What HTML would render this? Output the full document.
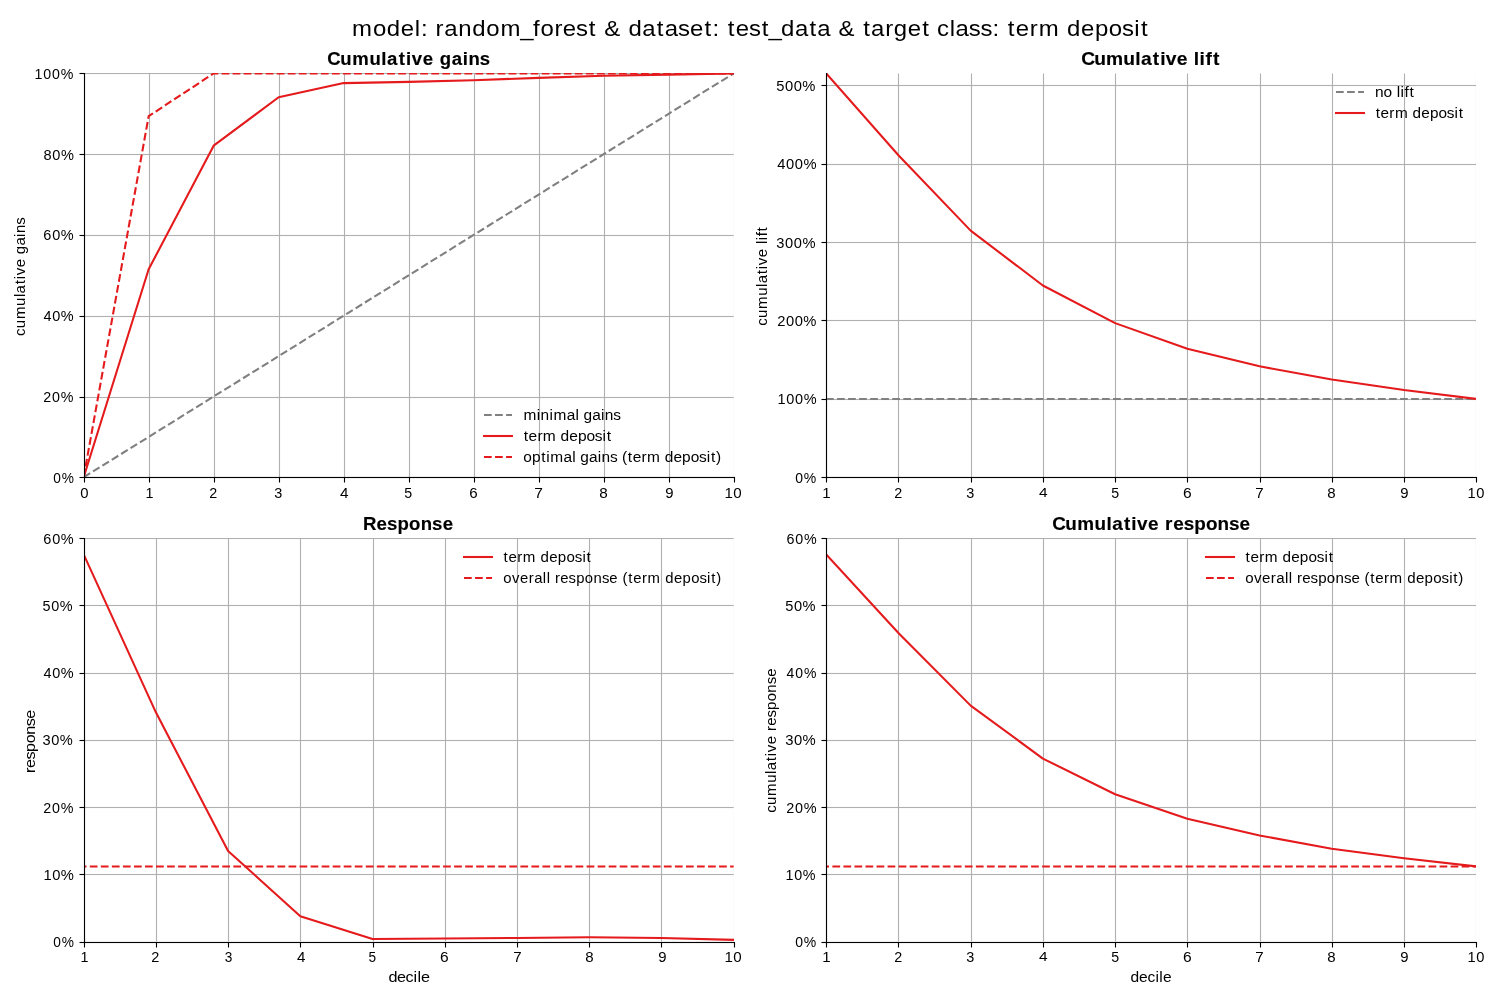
<!DOCTYPE html>
<html lang="en"><head><meta charset="utf-8"><title>model plots: random_forest on test_data</title>
<style>
html,body{margin:0;padding:0;background:#fff;width:1500px;height:1000px;overflow:hidden}
svg{display:block;will-change:transform}
text{font-family:"Liberation Sans",sans-serif;fill:#000;white-space:pre;font-kerning:none;font-variant-ligatures:none}
</style></head><body>
<svg width="1500" height="1000" viewBox="0 0 1500 1000">
<rect width="1500" height="1000" fill="#fff"/>
<defs>
<clipPath id="c0"><rect x="84" y="73" width="650" height="404"/></clipPath>
<clipPath id="c1"><rect x="826" y="73" width="650" height="404"/></clipPath>
<clipPath id="c2"><rect x="84" y="538" width="650" height="404"/></clipPath>
<clipPath id="c3"><rect x="826" y="538" width="650" height="404"/></clipPath>
</defs>
<g clip-path="url(#c0)" stroke="#b0b0b0" stroke-width="1.11" fill="none">
<path d="M84.5 73.4V477.3M149.5 73.4V477.3M214.5 73.4V477.3M279.5 73.4V477.3M344.5 73.4V477.3M409.5 73.4V477.3M474.5 73.4V477.3M539.5 73.4V477.3M604.5 73.4V477.3M669.5 73.4V477.3M734.5 73.4V477.3"/>
<rect x="83.65" y="476.94" width="650" height="1.11" fill="#b0b0b0" stroke="none"/>
<rect x="83.65" y="396.94" width="650" height="1.11" fill="#b0b0b0" stroke="none"/>
<rect x="83.65" y="315.94" width="650" height="1.11" fill="#b0b0b0" stroke="none"/>
<rect x="83.65" y="234.94" width="650" height="1.11" fill="#b0b0b0" stroke="none"/>
<rect x="83.65" y="153.94" width="650" height="1.11" fill="#b0b0b0" stroke="none"/>
<rect x="83.65" y="72.94" width="650" height="1.11" fill="#b0b0b0" stroke="none"/>
</g>
<g clip-path="url(#c1)" stroke="#b0b0b0" stroke-width="1.11" fill="none">
<path d="M826.5 73.4V477.3M898.5 73.4V477.3M971.5 73.4V477.3M1043.5 73.4V477.3M1115.5 73.4V477.3M1187.5 73.4V477.3M1260.5 73.4V477.3M1332.5 73.4V477.3M1404.5 73.4V477.3M1476.5 73.4V477.3"/>
<rect x="826.22" y="476.94" width="650" height="1.11" fill="#b0b0b0" stroke="none"/>
<rect x="826.22" y="398.94" width="650" height="1.11" fill="#b0b0b0" stroke="none"/>
<rect x="826.22" y="319.94" width="650" height="1.11" fill="#b0b0b0" stroke="none"/>
<rect x="826.22" y="241.94" width="650" height="1.11" fill="#b0b0b0" stroke="none"/>
<rect x="826.22" y="163.94" width="650" height="1.11" fill="#b0b0b0" stroke="none"/>
<rect x="826.22" y="84.94" width="650" height="1.11" fill="#b0b0b0" stroke="none"/>
</g>
<g clip-path="url(#c2)" stroke="#b0b0b0" stroke-width="1.11" fill="none">
<path d="M84.5 538.2V941.6M156.5 538.2V941.6M228.5 538.2V941.6M300.5 538.2V941.6M373.5 538.2V941.6M445.5 538.2V941.6M517.5 538.2V941.6M589.5 538.2V941.6M661.5 538.2V941.6M734.5 538.2V941.6"/>
<rect x="83.65" y="941.94" width="650" height="1.11" fill="#b0b0b0" stroke="none"/>
<rect x="83.65" y="873.94" width="650" height="1.11" fill="#b0b0b0" stroke="none"/>
<rect x="83.65" y="806.94" width="650" height="1.11" fill="#b0b0b0" stroke="none"/>
<rect x="83.65" y="739.94" width="650" height="1.11" fill="#b0b0b0" stroke="none"/>
<rect x="83.65" y="672.94" width="650" height="1.11" fill="#b0b0b0" stroke="none"/>
<rect x="83.65" y="604.94" width="650" height="1.11" fill="#b0b0b0" stroke="none"/>
<rect x="83.65" y="537.94" width="650" height="1.11" fill="#b0b0b0" stroke="none"/>
</g>
<g clip-path="url(#c3)" stroke="#b0b0b0" stroke-width="1.11" fill="none">
<path d="M826.5 538.2V941.6M898.5 538.2V941.6M971.5 538.2V941.6M1043.5 538.2V941.6M1115.5 538.2V941.6M1187.5 538.2V941.6M1260.5 538.2V941.6M1332.5 538.2V941.6M1404.5 538.2V941.6M1476.5 538.2V941.6"/>
<rect x="826.22" y="941.94" width="650" height="1.11" fill="#b0b0b0" stroke="none"/>
<rect x="826.22" y="873.94" width="650" height="1.11" fill="#b0b0b0" stroke="none"/>
<rect x="826.22" y="806.94" width="650" height="1.11" fill="#b0b0b0" stroke="none"/>
<rect x="826.22" y="739.94" width="650" height="1.11" fill="#b0b0b0" stroke="none"/>
<rect x="826.22" y="672.94" width="650" height="1.11" fill="#b0b0b0" stroke="none"/>
<rect x="826.22" y="604.94" width="650" height="1.11" fill="#b0b0b0" stroke="none"/>
<rect x="826.22" y="537.94" width="650" height="1.11" fill="#b0b0b0" stroke="none"/>
</g>
<path clip-path="url(#c0)" d="M83.65 477.3 L148.65 436.91 L213.65 396.52 L278.65 356.13 L343.65 315.74 L408.65 275.35 L473.65 234.96 L538.65 194.57 L603.65 154.18 L668.65 113.79 L733.65 73.4" fill="none" stroke="#808080" stroke-width="2.08" stroke-linejoin="round" stroke-dasharray="7.71 3.33" stroke-linecap="butt"/>
<path clip-path="url(#c0)" d="M83.65 477.3 L148.65 269.29 L213.65 145.7 L278.65 97.23 L343.65 83.09 L408.65 81.88 L473.65 80.27 L538.65 77.84 L603.65 75.82 L668.65 74.61 L733.65 73.4" fill="none" stroke="#e41a1c" stroke-width="2.08" stroke-linejoin="round" stroke-linecap="square"/>
<path clip-path="url(#c0)" d="M83.65 477.3 L148.65 116.21 L213.65 73.4 L278.65 73.4 L343.65 73.4 L408.65 73.4 L473.65 73.4 L538.65 73.4 L603.65 73.4 L668.65 73.4 L733.65 73.4" fill="none" stroke="#e41a1c" stroke-width="2.08" stroke-linejoin="round" stroke-dasharray="7.71 3.33" stroke-linecap="butt"/>
<path clip-path="url(#c1)" d="M826 399 L898 399 L971 399 L1043 399 L1115 399 L1187 399 L1260 399 L1332 399 L1404 399 L1476 399" fill="none" stroke="#808080" stroke-width="2.08" stroke-linejoin="round" stroke-dasharray="7.71 3.33" stroke-linecap="butt"/>
<path clip-path="url(#c1)" d="M826.22 73.4 L898.44 155.2 L970.66 230.65 L1042.89 285.47 L1115.11 323.11 L1187.33 348.76 L1259.55 366.33 L1331.78 379.5 L1404 390.01 L1476.22 398.87" fill="none" stroke="#e41a1c" stroke-width="2.08" stroke-linejoin="round" stroke-linecap="square"/>
<path clip-path="url(#c2)" d="M83.65 554.34 L155.87 712.33 L228.09 850.97 L300.32 916.19 L372.54 939.05 L444.76 938.57 L516.98 937.97 L589.21 937.3 L661.43 937.97 L733.65 939.85" fill="none" stroke="#e41a1c" stroke-width="2.08" stroke-linejoin="round" stroke-linecap="square"/>
<path clip-path="url(#c2)" d="M11.43 941.6 L83.65 866.43 L155.87 866.43 L228.09 866.43 L300.32 866.43 L372.54 866.43 L444.76 866.43 L516.98 866.43 L589.21 866.43 L661.43 866.43 L733.65 866.43" fill="none" stroke="#e41a1c" stroke-width="2.08" stroke-linejoin="round" stroke-dasharray="7.71 3.33" stroke-linecap="butt"/>
<path clip-path="url(#c3)" d="M826.22 554.34 L898.44 633 L970.66 705.61 L1042.89 758.59 L1115.11 794.22 L1187.33 818.76 L1259.55 835.51 L1331.78 848.68 L1404 858.3 L1476.22 866.43" fill="none" stroke="#e41a1c" stroke-width="2.08" stroke-linejoin="round" stroke-linecap="square"/>
<path clip-path="url(#c3)" d="M754 941.6 L826.22 866.43 L898.44 866.43 L970.66 866.43 L1042.89 866.43 L1115.11 866.43 L1187.33 866.43 L1259.55 866.43 L1331.78 866.43 L1404 866.43 L1476.22 866.43" fill="none" stroke="#e41a1c" stroke-width="2.08" stroke-linejoin="round" stroke-dasharray="7.71 3.33" stroke-linecap="butt"/>
<rect x="83.94" y="476.94" width="651.11" height="1.11" fill="#000"/>
<rect x="79.5" y="476.94" width="5" height="1.11" fill="#000"/>
<rect x="79.5" y="396.94" width="5" height="1.11" fill="#000"/>
<rect x="79.5" y="315.94" width="5" height="1.11" fill="#000"/>
<rect x="79.5" y="234.94" width="5" height="1.11" fill="#000"/>
<rect x="79.5" y="153.94" width="5" height="1.11" fill="#000"/>
<rect x="79.5" y="72.94" width="5" height="1.11" fill="#000"/>
<path d="M84.5 72.94V478.06M84.5 477.5V482.5M149.5 477.5V482.5M214.5 477.5V482.5M279.5 477.5V482.5M344.5 477.5V482.5M409.5 477.5V482.5M474.5 477.5V482.5M539.5 477.5V482.5M604.5 477.5V482.5M669.5 477.5V482.5M734.5 477.5V482.5" stroke="#000" stroke-width="1.11" fill="none"/>
<rect x="825.94" y="476.94" width="651.11" height="1.11" fill="#000"/>
<rect x="821.5" y="476.94" width="5" height="1.11" fill="#000"/>
<rect x="821.5" y="398.94" width="5" height="1.11" fill="#000"/>
<rect x="821.5" y="319.94" width="5" height="1.11" fill="#000"/>
<rect x="821.5" y="241.94" width="5" height="1.11" fill="#000"/>
<rect x="821.5" y="163.94" width="5" height="1.11" fill="#000"/>
<rect x="821.5" y="84.94" width="5" height="1.11" fill="#000"/>
<path d="M826.5 72.94V478.06M826.5 477.5V482.5M898.5 477.5V482.5M971.5 477.5V482.5M1043.5 477.5V482.5M1115.5 477.5V482.5M1187.5 477.5V482.5M1260.5 477.5V482.5M1332.5 477.5V482.5M1404.5 477.5V482.5M1476.5 477.5V482.5" stroke="#000" stroke-width="1.11" fill="none"/>
<rect x="83.94" y="941.94" width="651.11" height="1.11" fill="#000"/>
<rect x="79.5" y="941.94" width="5" height="1.11" fill="#000"/>
<rect x="79.5" y="873.94" width="5" height="1.11" fill="#000"/>
<rect x="79.5" y="806.94" width="5" height="1.11" fill="#000"/>
<rect x="79.5" y="739.94" width="5" height="1.11" fill="#000"/>
<rect x="79.5" y="672.94" width="5" height="1.11" fill="#000"/>
<rect x="79.5" y="604.94" width="5" height="1.11" fill="#000"/>
<rect x="79.5" y="537.94" width="5" height="1.11" fill="#000"/>
<path d="M84.5 537.94V943.06M84.5 942.5V947.5M156.5 942.5V947.5M228.5 942.5V947.5M300.5 942.5V947.5M373.5 942.5V947.5M445.5 942.5V947.5M517.5 942.5V947.5M589.5 942.5V947.5M661.5 942.5V947.5M734.5 942.5V947.5" stroke="#000" stroke-width="1.11" fill="none"/>
<rect x="825.94" y="941.94" width="651.11" height="1.11" fill="#000"/>
<rect x="821.5" y="941.94" width="5" height="1.11" fill="#000"/>
<rect x="821.5" y="873.94" width="5" height="1.11" fill="#000"/>
<rect x="821.5" y="806.94" width="5" height="1.11" fill="#000"/>
<rect x="821.5" y="739.94" width="5" height="1.11" fill="#000"/>
<rect x="821.5" y="672.94" width="5" height="1.11" fill="#000"/>
<rect x="821.5" y="604.94" width="5" height="1.11" fill="#000"/>
<rect x="821.5" y="537.94" width="5" height="1.11" fill="#000"/>
<path d="M826.5 537.94V943.06M826.5 942.5V947.5M898.5 942.5V947.5M971.5 942.5V947.5M1043.5 942.5V947.5M1115.5 942.5V947.5M1187.5 942.5V947.5M1260.5 942.5V947.5M1332.5 942.5V947.5M1404.5 942.5V947.5M1476.5 942.5V947.5" stroke="#000" stroke-width="1.11" fill="none"/>
<path d="M484 415H512" fill="none" stroke="#808080" stroke-width="2.08" stroke-dasharray="7.71 3.33" stroke-linecap="butt"/>
<path d="M484 436H512" fill="none" stroke="#e41a1c" stroke-width="2.08" stroke-linecap="square"/>
<path d="M484 457H512" fill="none" stroke="#e41a1c" stroke-width="2.08" stroke-dasharray="7.71 3.33" stroke-linecap="butt"/>
<path d="M1336 92H1364" fill="none" stroke="#808080" stroke-width="2.08" stroke-dasharray="7.71 3.33" stroke-linecap="butt"/>
<path d="M1336 113H1364" fill="none" stroke="#e41a1c" stroke-width="2.08" stroke-linecap="square"/>
<path d="M464 557H492" fill="none" stroke="#e41a1c" stroke-width="2.08" stroke-linecap="square"/>
<path d="M464 578H492" fill="none" stroke="#e41a1c" stroke-width="2.08" stroke-dasharray="7.71 3.33" stroke-linecap="butt"/>
<path d="M1206 557H1234" fill="none" stroke="#e41a1c" stroke-width="2.08" stroke-linecap="square"/>
<path d="M1206 578H1234" fill="none" stroke="#e41a1c" stroke-width="2.08" stroke-dasharray="7.71 3.33" stroke-linecap="butt"/>
<text id="t0" transform="translate(351.19 35.61) scale(1.0555 1)" x="0.81 20.67 33.81 46.99 60.19 66.04 72.94 80 88.26 101.4 114.77 127.91 141.48 160.16 172.3 179.3 192.62 200.43 213.05 225.19 232.68 239.83 255.81 262.7 275.85 289.6 297.03 309.62 320.96 334.74 342.42 349.32 356.8 364.26 376.88 389.02 395.27 407.23 420.38 434.13 441.56 454.53 461.68 477.67 485.15 492.59 505.91 514.05 527.22 541 548.48 555.11 566.99 572.58 585.17 596.15 607.72 614.62 622.1 629.56 642.91 651.48 671.4 678.29 691.46 704.64 717.78 730.35 741.93 748.36" y="0" font-size="22.7">model: random_forest &amp; dataset: test_data &amp; target class: term deposit</text>
<text id="t1" transform="translate(327.78 64.54) scale(1.0303 1)" x="-0.58 12.09 23.73 40.39 51.9 57.6 68.91 76.03 81.55 92.28 103.07 108.66 120.37 131.08 136.6 147.63" y="0" font-size="18" font-weight="bold" stroke="#000" stroke-width="0.15">Cumulative gains</text>
<text id="t2" transform="translate(24.74 336.04) rotate(-90) scale(1.0160 1)" x="0.06 7.73 16.67 29.69 38.38 42 50.91 55.9 59.79 67.61 76.04 80.49 89.01 97.56 101.32 109.62" y="0" font-size="14.76">cumulative gains</text>
<text id="t3" transform="translate(80.03 497.66) scale(1.0493 1)" x="0.26" y="0" font-size="14.21">0</text>
<text id="t4" transform="translate(145.21 497.55) scale(0.9658 1)" x="0.43" y="0" font-size="14.88">1</text>
<text id="t5" transform="translate(208.78 497.58) scale(0.9471 1)" x="0.46" y="0" font-size="15.12">2</text>
<text id="t6" transform="translate(273.78 497.71) scale(0.9517 1)" x="0.41" y="0" font-size="15.2">3</text>
<text id="t7" transform="translate(339.78 497.7) scale(1.0676 1)" x="0.14" y="0" font-size="14.36">4</text>
<text id="t8" transform="translate(403.78 497.55) scale(0.9170 1)" x="0.51" y="0" font-size="15.47">5</text>
<text id="t9" transform="translate(468.96 497.65) scale(1.0614 1)" x="0.2" y="0" font-size="14.23">6</text>
<text id="t10" transform="translate(534.28 497.68) scale(1.0376 1)" x="0.08" y="0" font-size="15.03">7</text>
<text id="t11" transform="translate(599.21 497.64) scale(0.9863 1)" x="0.16" y="0" font-size="15.51">8</text>
<text id="t12" transform="translate(664.96 497.74) scale(1.0786 1)" x="0.25" y="0" font-size="13.81">9</text>
<text id="t13" transform="translate(724.34 497.56) scale(0.9755 1)" x="0.21 9.26" y="0" font-size="15.52">10</text>
<text id="t14" transform="translate(52.55 483.08) scale(0.9427 1)" x="0.64 9.89" y="0" font-size="14.54">0%</text>
<text id="t15" transform="translate(42.8 401.67) scale(0.9557 1)" x="0.46 9.7 18.73" y="0" font-size="14.94">20%</text>
<text id="t16" transform="translate(43.05 320.67) scale(1.0193 1)" x="0.38 9.04 17.47" y="0" font-size="14.21">40%</text>
<text id="t17" transform="translate(42.93 239.7) scale(0.9868 1)" x="0.38 9.33 18.03" y="0" font-size="14.71">60%</text>
<text id="t18" transform="translate(43.18 159.68) scale(1.0016 1)" x="0.36 9.18 17.74" y="0" font-size="14.55">80%</text>
<text id="t19" transform="translate(33.93 78.63) scale(0.9221 1)" x="0.51 10.08 19.65 29.03" y="0" font-size="15.39">100%</text>
<text id="t20" transform="translate(523.15 419.52) scale(1.0922 1)" x="0.29 12.57 16 24.15 27.78 39.82 47.84 51.23 55.31 63.23 71.25 74.68 82.41" y="0" font-size="14.15">minimal gains</text>
<text id="t21" transform="translate(523.15 440.8) scale(1.0581 1)" x="0.53 5.09 13.46 18.63 31.18 35.38 43.57 51.77 59.94 67.78 75.06 79.04" y="0" font-size="14.7">term deposit</text>
<text id="t22" transform="translate(523.4 461.57) scale(1.0700 1)" x="-0.05 8.03 16.7 21.45 25.15 37.44 45.63 49.09 53.25 61.34 69.53 73.03 80.92 87.96 92.16 97.63 102.15 110.41 115.55 127.94 132.1 140.21 148.31 156.4 164.15 171.33 175.27 179.95" y="0" font-size="14.44">optimal gains (term deposit)</text>
<text id="t23" transform="translate(1081.97 64.72) scale(1.0484 1)" x="-0.8 11.68 23.04 39.5 50.91 56.43 67.62 74.63 79.97 90.51 101.2 106.68 112.12 117.78 125.02" y="0" font-size="18.33" font-weight="bold" stroke="#000" stroke-width="0.15">Cumulative lift</text>
<text id="t24" transform="translate(766.95 325.91) rotate(-90) scale(1.0349 1)" x="0.05 7.58 16.35 29.14 37.67 41.22 49.98 54.87 58.68 66.37 74.64 79.04 82.77 86.59 91.33" y="0" font-size="14.53">cumulative lift</text>
<text id="t25" transform="translate(822.03 497.55) scale(1.0391 1)" x="0.22" y="0" font-size="14.49">1</text>
<text id="t26" transform="translate(893.82 497.58) scale(0.9471 1)" x="0.46" y="0" font-size="15.12">2</text>
<text id="t27" transform="translate(965.79 497.71) scale(0.9517 1)" x="0.41" y="0" font-size="15.2">3</text>
<text id="t28" transform="translate(1039.01 496.7) scale(1.1336 1)" x="0.1" y="0" font-size="13.66">4</text>
<text id="t29" transform="translate(1110.73 497.55) scale(0.9170 1)" x="0.51" y="0" font-size="15.47">5</text>
<text id="t30" transform="translate(1182.89 497.65) scale(1.0932 1)" x="0.08" y="0" font-size="14.23">6</text>
<text id="t31" transform="translate(1255.18 497.68) scale(1.0082 1)" x="0.2" y="0" font-size="15.03">7</text>
<text id="t32" transform="translate(1327.09 497.64) scale(0.9719 1)" x="0.23" y="0" font-size="15.51">8</text>
<text id="t33" transform="translate(1400.06 497.74) scale(1.0786 1)" x="0.25" y="0" font-size="13.81">9</text>
<text id="t34" transform="translate(1467.16 497.56) scale(1.0185 1)" x="0.33 8.99" y="0" font-size="14.41">10</text>
<text id="t35" transform="translate(794.62 482.58) scale(0.9153 1)" x="0.57 10.04" y="0" font-size="15.3">0%</text>
<text id="t36" transform="translate(777 403.59) scale(0.9406 1)" x="0.41 9.8 19.18 28.32" y="0" font-size="15.4">100%</text>
<text id="t37" transform="translate(776.87 325.53) scale(0.9798 1)" x="0.31 9.32 18.33 27.05" y="0" font-size="15.08">200%</text>
<text id="t38" transform="translate(775.87 247.52) scale(0.9459 1)" x="0.35 9.68 19.01 28.06" y="0" font-size="15.53">300%</text>
<text id="t39" transform="translate(776.87 168.52) scale(0.9980 1)" x="0.32 9.17 18.01 26.59" y="0" font-size="14.74">400%</text>
<text id="t40" transform="translate(775.87 90.7) scale(0.9646 1)" x="0.32 9.47 18.62 27.48" y="0" font-size="15.31">500%</text>
<text id="t41" transform="translate(1374.85 96.61) scale(1.0531 1)" x="0.08 8.28 16.46 20.79 24.45 28.19 32.86" y="0" font-size="14.73">no lift</text>
<text id="t42" transform="translate(1375.1 117.53) scale(1.0442 1)" x="0.56 5.21 13.67 18.96 31.62 35.91 44.21 52.51 60.8 68.74 76.09 80.13" y="0" font-size="14.7">term deposit</text>
<text id="t43" transform="translate(363.21 529.54) scale(1.0115 1)" x="-0.31 13.12 23.58 33.85 45.38 56.88 68.12 78.59" y="0" font-size="18.39" font-weight="bold" stroke="#000" stroke-width="0.15">Response</text>
<text id="t44" transform="translate(388.53 981.71) scale(1.1076 1)" x="-0.1 7.73 15.44 22.66 26.14 29.28" y="0" font-size="14.67">decile</text>
<text id="t45" transform="translate(34.67 773.09) rotate(-90) scale(1.0726 1)" x="0.13 4.85 12.62 19.67 27.73 35.79 43.68 50.61" y="0" font-size="15.17">response</text>
<text id="t46" transform="translate(80.21 961.6) scale(0.9658 1)" x="0.43" y="0" font-size="14.88">1</text>
<text id="t47" transform="translate(151 961.53) scale(0.9615 1)" x="0.39" y="0" font-size="15.12">2</text>
<text id="t48" transform="translate(224.22 961.51) scale(0.8979 1)" x="0.69" y="0" font-size="15.2">3</text>
<text id="t49" transform="translate(296.94 961.5) scale(1.1006 1)" x="0.17" y="0" font-size="13.8">4</text>
<text id="t50" transform="translate(367.91 961.6) scale(0.9296 1)" x="0.66" y="0" font-size="14.7">5</text>
<text id="t51" transform="translate(439.82 961.7) scale(1.0932 1)" x="0.08" y="0" font-size="14.23">6</text>
<text id="t52" transform="translate(513.11 961.73) scale(1.0082 1)" x="0.2" y="0" font-size="15.03">7</text>
<text id="t53" transform="translate(585.02 961.69) scale(0.9719 1)" x="0.23" y="0" font-size="15.51">8</text>
<text id="t54" transform="translate(657.99 961.54) scale(1.0786 1)" x="0.25" y="0" font-size="13.81">9</text>
<text id="t55" transform="translate(724.34 961.61) scale(0.9755 1)" x="0.21 9.26" y="0" font-size="15.52">10</text>
<text id="t56" transform="translate(52.55 946.63) scale(0.9427 1)" x="0.64 9.89" y="0" font-size="14.54">0%</text>
<text id="t57" transform="translate(43.18 879.6) scale(0.9876 1)" x="0.31 9.25 17.91" y="0" font-size="14.95">10%</text>
<text id="t58" transform="translate(42.8 812.63) scale(0.9557 1)" x="0.46 9.7 18.73" y="0" font-size="14.94">20%</text>
<text id="t59" transform="translate(42.05 744.82) scale(0.9533 1)" x="0.36 9.63 18.62" y="0" font-size="15.34">30%</text>
<text id="t60" transform="translate(43.05 677.6) scale(1.0193 1)" x="0.38 9.04 17.47" y="0" font-size="14.21">40%</text>
<text id="t61" transform="translate(42.05 610.68) scale(0.9317 1)" x="0.43 9.91 19.14" y="0" font-size="15.48">50%</text>
<text id="t62" transform="translate(42.93 543.64) scale(0.9868 1)" x="0.38 9.33 18.03" y="0" font-size="14.71">60%</text>
<text id="t63" transform="translate(502.9 561.64) scale(1.0283 1)" x="0.6 5.35 13.92 19.35 32.14 36.52 44.96 53.39 61.8 69.86 77.29 81.4" y="0" font-size="14.7">term deposit</text>
<text id="t64" transform="translate(503.15 583.04) scale(1.0647 1)" x="0.1 8.33 15.81 24.06 29.17 37.31 40.93 44.42 48.78 53.68 61.47 68.61 76.74 84.85 92.77 99.78 107.81 112.03 117.52 122.14 130.38 135.68 147.98 152.24 160.39 168.53 176.65 184.43 191.58 195.55 200.26" y="0" font-size="13.98">overall response (term deposit)</text>
<text id="t65" transform="translate(1053.03 529.66) scale(1.0147 1)" x="-0.71 12.17 23.94 40.9 52.65 58.39 69.91 77.15 82.71 93.6 104.6 110.46 118.5 128.93 139.16 150.65 162.11 173.33 183.76" y="0" font-size="18.63" font-weight="bold" stroke="#000" stroke-width="0.15">Cumulative response</text>
<text id="t66" transform="translate(1130.35 981.71) scale(1.0606 1)" x="0.07 8.25 16.28 23.73 27.37 30.76" y="0" font-size="14.67">decile</text>
<text id="t67" transform="translate(775.84 812.9) rotate(-90) scale(1.0240 1)" x="0.05 7.66 16.52 29.45 38.07 41.66 50.51 55.45 59.31 67.07 75.44 79.97 85.04 93.15 100.57 109.01 117.45 125.69 132.97" y="0" font-size="14.69">cumulative response</text>
<text id="t68" transform="translate(822.03 961.6) scale(1.0391 1)" x="0.22" y="0" font-size="14.49">1</text>
<text id="t69" transform="translate(893.82 961.53) scale(0.9471 1)" x="0.46" y="0" font-size="15.12">2</text>
<text id="t70" transform="translate(965.79 961.51) scale(0.9517 1)" x="0.41" y="0" font-size="15.2">3</text>
<text id="t71" transform="translate(1039.01 960.5) scale(1.1336 1)" x="0.1" y="0" font-size="13.66">4</text>
<text id="t72" transform="translate(1110.73 961.6) scale(0.9170 1)" x="0.51" y="0" font-size="15.47">5</text>
<text id="t73" transform="translate(1182.89 961.7) scale(1.0932 1)" x="0.08" y="0" font-size="14.23">6</text>
<text id="t74" transform="translate(1255.18 961.73) scale(1.0082 1)" x="0.2" y="0" font-size="15.03">7</text>
<text id="t75" transform="translate(1327.09 961.69) scale(0.9719 1)" x="0.23" y="0" font-size="15.51">8</text>
<text id="t76" transform="translate(1400.06 961.54) scale(1.0786 1)" x="0.25" y="0" font-size="13.81">9</text>
<text id="t77" transform="translate(1467.16 961.61) scale(1.0185 1)" x="0.33 8.99" y="0" font-size="14.41">10</text>
<text id="t78" transform="translate(794.62 946.63) scale(0.9153 1)" x="0.57 10.04" y="0" font-size="15.3">0%</text>
<text id="t79" transform="translate(785 879.6) scale(0.9588 1)" x="0.45 9.65 18.64" y="0" font-size="14.95">10%</text>
<text id="t80" transform="translate(785.87 812.63) scale(0.9414 1)" x="0.43 9.81 18.95" y="0" font-size="15.32">20%</text>
<text id="t81" transform="translate(784.87 744.57) scale(1.0141 1)" x="0.29 8.99 17.41" y="0" font-size="14.61">30%</text>
<text id="t82" transform="translate(785.87 677.73) scale(0.9332 1)" x="0.56 10.02 19.32" y="0" font-size="15">40%</text>
<text id="t83" transform="translate(784.87 610.68) scale(0.9461 1)" x="0.36 9.69 18.75" y="0" font-size="15.48">50%</text>
<text id="t84" transform="translate(786 543.64) scale(0.9858 1)" x="0.45 9.4 18.15" y="0" font-size="14.49">60%</text>
<text id="t85" transform="translate(1244.97 561.64) scale(1.0427 1)" x="0.57 5.22 13.69 18.99 31.67 35.96 44.28 52.59 60.89 68.84 76.2 80.24" y="0" font-size="14.7">term deposit</text>
<text id="t86" transform="translate(1245.22 583.04) scale(1.0806 1)" x="0.04 8.16 15.52 23.67 28.68 36.73 40.3 43.73 48.03 52.83 60.51 67.54 75.54 83.54 91.35 98.25 106.18 110.34 115.75 120.27 128.42 133.59 145.76 149.93 157.96 165.98 173.99 181.65 188.72 192.63 197.27" y="0" font-size="13.98">overall response (term deposit)</text>
</svg>
</body></html>
